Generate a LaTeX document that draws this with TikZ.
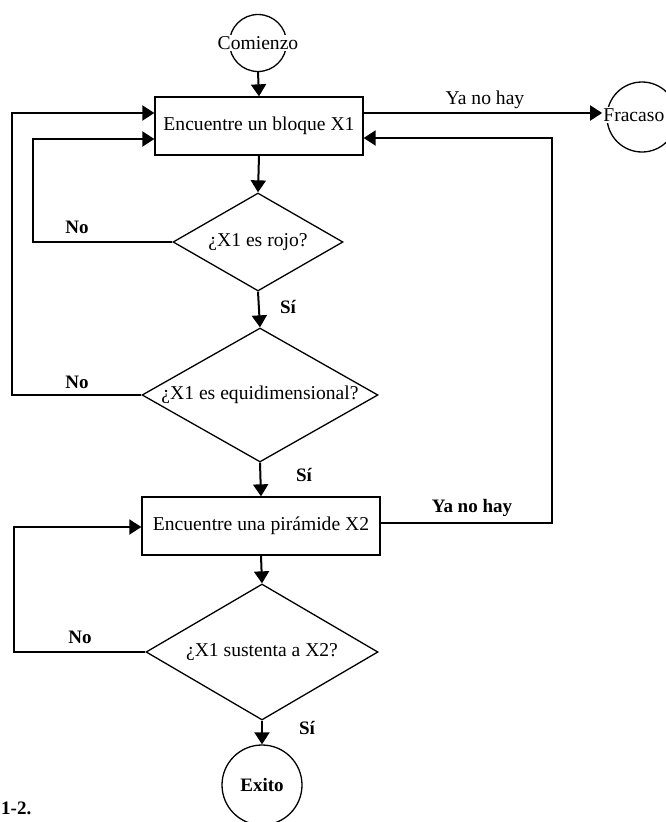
\documentclass[tikz,border=0pt]{standalone}
\usepackage{fontspec}
\setmainfont{Liberation Serif}
\usetikzlibrary{shapes.geometric,arrows.meta,calc}
\begin{document}
\begin{tikzpicture}[x=1bp,y=-1bp,
  font=\fontsize{19.6bp}{23bp}\selectfont,
  conn/.style={line width=2bp,-{Triangle[length=12bp,width=15bp]}},
  boxnode/.style={draw,line width=1.3bp,minimum height=58bp,inner sep=0},
  dia/.style={draw,diamond,line width=1.3bp,inner sep=0},
  term/.style={draw,circle,line width=1.3bp,inner sep=0},
  lab/.style={font=\fontsize{19bp}{23bp}\selectfont\bfseries,inner sep=1bp},
  txt/.style={inner sep=1bp}]
\useasboundingbox (0,0) rectangle (666,822);
% nodes
\node[term,minimum size=57bp] (startc) at (258,43) {};
\node[txt,fill=white] (start) at (258,43) {Comienzo};
\node[boxnode,minimum width=208bp] (b1) at (259,126) {Encuentre un bloque X1};
\node[dia,minimum width=170bp,minimum height=98bp] (d1) at (258,242) {};
\node[txt] (d1t) at (d1) {¿X1 es rojo?};
\node[dia,minimum width=236bp,minimum height=134bp] (d2) at (260,395) {};
\node[txt] (d2t) at (d2) {¿X1 es equidimensional?};
\node[boxnode,minimum width=238bp] (b2) at (261,526) {Encuentre una pirámide X2};
\node[dia,minimum width=232bp,minimum height=136bp] (d3) at (262,652) {};
\node[txt] (d3t) at (d3) {¿X1 sustenta a X2?};
\node[term,minimum size=80bp] (exitc) at (262,785) {};
\node[lab] (exit) at (exitc) {Exito};
\node[term,minimum size=70bp] (failc) at (642,117) {};
\node[txt,fill=white,anchor=east] (fail) at (665.5,115) {Fracaso};
% corner coordinates
\coordinate (l1) at (33,139);
\coordinate (l2) at (12,113);
\coordinate (l3) at (14,527);
\coordinate (r1) at (552,523);
\coordinate (r2) at (552,138);
% main flow
\draw[conn] (startc.south) -- (b1.north);
\draw[conn] (b1.south) -- (d1.north);
\draw[conn] (d1.south) -- (d2.north);
\draw[conn] (d2.south) -- (b2.north);
\draw[conn] (b2.south) -- (d3.north);
\draw[conn] (d3.south) -- (exitc.north);
% loops
\draw[conn] (d1.west) -| (l1) -- (b1.west |- l1);
\draw[conn] (d2.west) -| (l2) -- (b1.west |- l2);
\draw[conn] (d3.west) -| (l3) -- (b2.west |- l3);
\draw[conn] (b2.east |- r1) -- (r1) -- (r2) -- (b1.east |- r2);
\draw[conn] (b1.east |- l2) -- (fail.west |- l2);
% labels
\node[lab] at (77,227) {No};
\node[lab] at (77,382) {No};
\node[lab] at (80,637) {No};
\node[lab] at (288,307) {Sí};
\node[lab] at (304,475) {Sí};
\node[lab] at (307,728) {Sí};
\node[txt] at (485,100) {Ya no hay};
\node[lab] at (472,508) {Ya no hay};
\node[lab,anchor=west] at (0,808) {1-2.};
\end{tikzpicture}
\end{document}
